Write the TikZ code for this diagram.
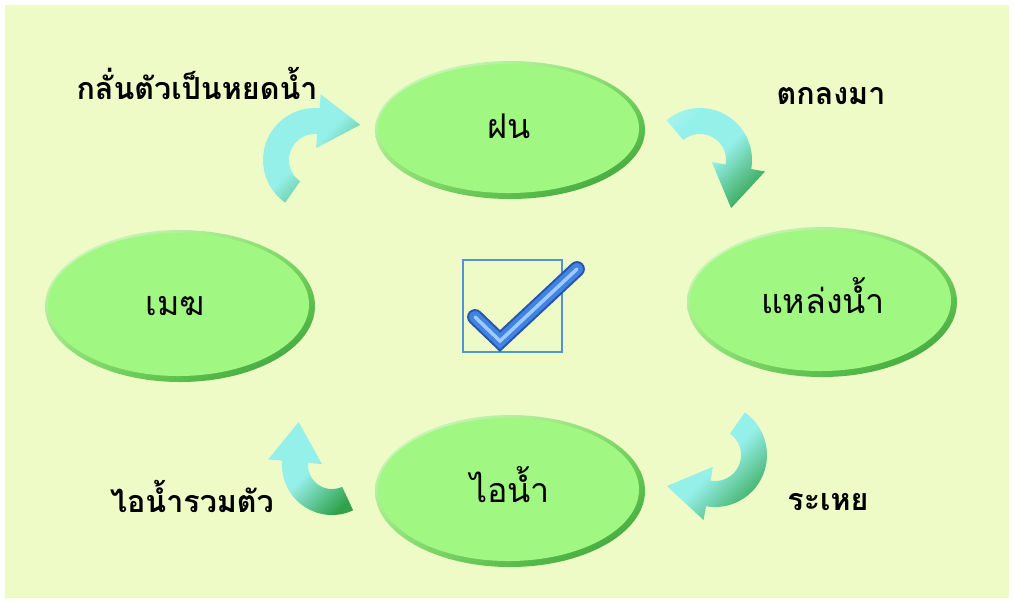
\documentclass[tikz,border=0pt]{standalone}
\usepackage{fontspec}
\newfontfamily\thai[Script=Thai]{Loma}
\usetikzlibrary{shapes.geometric,shadings}
\definecolor{bg}{HTML}{EFFBC6}
\definecolor{facegreen}{HTML}{A0F781}
\definecolor{rimlight}{HTML}{E2FFD4}
\definecolor{rimdark}{HTML}{2F9A30}
\definecolor{rimmid}{HTML}{86E068}
\definecolor{arrlight}{HTML}{C4FBF8}
\definecolor{arrmid}{HTML}{96F0EA}
\definecolor{arrdark}{HTML}{2FA24A}
\definecolor{chkdark}{HTML}{2456B0}
\definecolor{chkmain}{HTML}{4283E2}
\definecolor{chklight}{HTML}{9CCBFF}
\definecolor{boxblue}{HTML}{4F95D6}
\pgfdeclareverticalshading{cyshade}{100bp}{color(0bp)=(arrdark); color(22bp)=(arrdark); color(50bp)=(arrmid); color(72bp)=(arrmid); color(100bp)=(arrlight)}
\tikzset{
  rim/.style={ellipse, inner sep=0pt, draw=none, upper left=rimlight, lower right=rimdark, upper right=rimmid, lower left=rimmid},
  face/.style={ellipse, inner sep=0pt, draw=none, fill=facegreen},
  etext/.style={font=\thai\fontsize{29}{32}\selectfont, inner sep=0pt, anchor=base},
  lbl/.style={font=\thai\bfseries\fontsize{26}{30}\selectfont, inner sep=0pt, anchor=base},
  cyarrow/.style={shading=cyshade, shading angle=45}
}
% #1 cx #2 cy #3 a1 #4 a2 #5 R #6 r #7 ext #8 tip angle #9 tip length
\newcommand\cycarrow[9]{%
  \path[cyarrow] plot[domain=#3:#4,samples=40] ({#1+#5*cos(\x)},{#2+#5*sin(\x)})
   -- ({#1+(#5+#7)*cos(#4)},{#2+(#5+#7)*sin(#4)})
   -- ({#1+(#5+#6)/2*cos(#4)+#9*cos(#8)},{#2+(#5+#6)/2*sin(#4)+#9*sin(#8)})
   -- ({#1+(#6-#7)*cos(#4)},{#2+(#6-#7)*sin(#4)})
   -- plot[domain=#4:#3,samples=40] ({#1+#6*cos(\x)},{#2+#6*sin(\x)}) -- cycle;}
% #1 name #2 x #3 y #4 w #5 h
\newcommand\bubble[5]{%
  \node[rim, minimum width=#4*0.3mm, minimum height=#5*0.3mm] (#1) at (#2,#3) {};
  \node[face, minimum width=(#4-9)*0.3mm, minimum height=(#5-9)*0.3mm] (#1-face) at (#2-1.5,#3-1.5) {};}
\begin{document}
\begin{tikzpicture}[x=0.03cm,y=-0.03cm]
\useasboundingbox (0,0) rectangle (1014,603);
\fill[white] (0,0) rectangle (1014,603);
\fill[bg] (5,5) rectangle (1009,598);

% ellipses
\bubble{rain}{510}{130}{270}{138}
\bubble{cloud}{180}{306}{270}{152}
\bubble{water}{822}{302}{270}{150}
\bubble{vapor}{510}{491}{270}{152}

\node[etext] (rain-t) at (509,138) {ฝน};
\node[etext] (cloud-t) at (175,315) {เมฆ};
\node[etext] (water-t) at (823,313) {แหล่งน้ำ};
\node[etext] (vapor-t) at (510,502) {ไอน้ำ};

% labels
\node[lbl] (l1) at (197,99) {กลั่นตัวเป็นหยดน้ำ};
\node[lbl] (l2) at (831,104) {ตกลงมา};
\node[lbl] (l3) at (828,510) {ระเหย};
\node[lbl] (l4) at (192,512) {ไอน้ำรวมตัว};

% curved arrows
\cycarrow{315}{160}{125}{275}{52}{26}{14}{5}{42}
\cycarrow{700}{160}{230}{370}{52}{26}{14}{100}{42}
\cycarrow{715}{455}{305}{460}{52}{26}{14}{190}{42}
\cycarrow{332}{465}{65}{185}{50}{24}{14}{275}{40}

% check box
\draw[boxblue, line width=1.7pt] (463,260) rectangle (562,352);
\coordinate (c1) at (475,317);
\coordinate (c2) at (500,341);
\coordinate (c3) at (577,269);
\draw[chkdark, line width=13.5pt, line join=miter, line cap=round] (c1) -- (c2) -- (c3);
\draw[chkmain, line width=10pt, line join=miter, line cap=round, shift={(-1,-1.5)}] (c1) -- (c2) -- (c3);
\draw[chklight, line width=3pt, line join=miter, line cap=round, shift={(-3,-4.5)}] (c1) -- (c2) -- (c3);
\end{tikzpicture}
\end{document}
